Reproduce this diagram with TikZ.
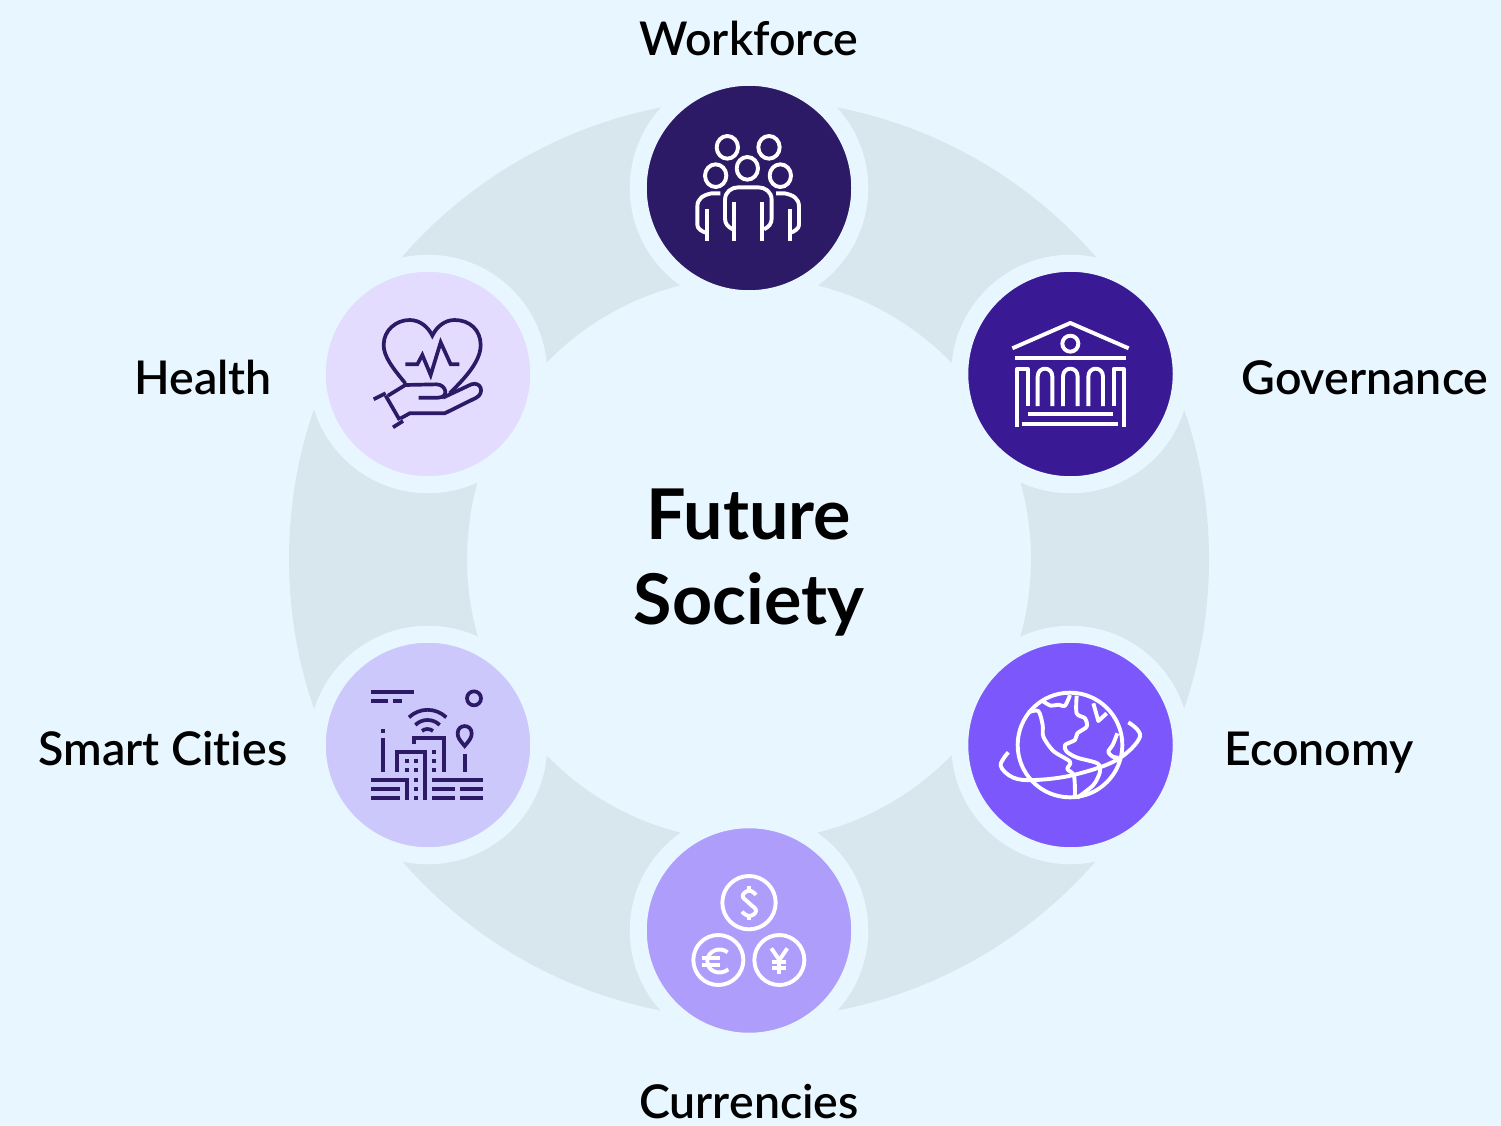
\documentclass[tikz,border=0pt]{standalone}
\usepackage{fontspec}
\setmainfont[Ligatures=NoCommon]{Lato}
\newfontfamily\mediumfont[Ligatures=NoCommon]{Lato Semibold}
\usetikzlibrary{positioning}
\definecolor{sky}{HTML}{E8F7FF}
\definecolor{ringgrey}{HTML}{D8E6EE}
\definecolor{inkdark}{HTML}{2D1A66}
\definecolor{inkroyal}{HTML}{3A1A94}
\definecolor{inkviolet}{HTML}{7B57FC}
\definecolor{inklilac}{HTML}{AE9DFB}
\definecolor{inkperi}{HTML}{CCC8FB}
\definecolor{inkpale}{HTML}{E3DCFE}

\begin{document}
\begin{tikzpicture}[
    x=1pt, y=-1pt,
    hub/.style={circle, draw=sky, line width=17pt, inner sep=0pt, outer sep=0pt, minimum size=221.5pt},
    caption/.style={font=\mediumfont\fontsize{46.5}{50}\selectfont, text=black, inner sep=0pt, anchor=base},
    title/.style={font=\bfseries\fontsize{70}{85}\selectfont, text=black, align=center, inner sep=0pt},
    iconbox/.style={shift={#1}, scale=1/3},
    lightline/.style={draw=white, line width=3.9pt, line join=round},
    darkline/.style={draw=inkdark, line width=3.7pt, line join=miter}
    ]

    % Fondo y anillo
    \fill[sky] (0,0) rectangle (1501,1126);
    \useasboundingbox (0,0) rectangle (1501,1126);
    \coordinate (Center) at (749,559);
    \draw[ringgrey, line width=178pt] (Center) circle (371);

    % Circulos
    \node[hub, fill=inkdark] (Workforce) at (749,188) {};
    \node[hub, fill=inkroyal] (Governance) at (1070.5,374) {};
    \node[hub, fill=inkviolet] (Economy) at (1070.5,745) {};
    \node[hub, fill=inklilac] (Currencies) at (749,930.5) {};
    \node[hub, fill=inkperi] (SmartCities) at (428,745) {};
    \node[hub, fill=inkpale] (Health) at (428,374) {};

    % Textos
    \node[title] (FutureSociety) at (749,563) {Future\\Society};
    \node[caption] (WorkforceText) at (749,56) {Workforce};
    \node[caption] (GovernanceText) at (1365,394) {Governance};
    \node[caption] (EconomyText) at (1319,765) {Economy};
    \node[caption] (CurrenciesText) at (749,1118) {Currencies};
    \node[caption] (SmartCitiesText) at (163,765) {Smart Cities};
    \node[caption] (HealthText) at (203,394) {Health};

    % Icono: personas
    \begin{scope}[iconbox={(640,80)}]
        \draw[lightline] (262,202) ellipse (32 and 34);
        \draw[lightline] (387,202) ellipse (32 and 34);
        \draw[lightline] (322,265) ellipse (32 and 34);
        \draw[lightline] (227,287) ellipse (32 and 34);
        \draw[lightline] (421,287) ellipse (32 and 34);
        \draw[lightline] (278,448) .. controls (262,440) and (255,430) .. (255,415) -- (255,360) .. controls (255,335) and (275,322) .. (295,322) -- (355,322) .. controls (375,322) and (395,335) .. (395,360) -- (395,415) .. controls (395,430) and (388,440) .. (372,448);
        \draw[lightline] (283,367) -- (283,483);
        \draw[lightline] (366,367) -- (366,483);
        \draw[lightline] (241,340) -- (215,340) .. controls (190,345) and (172,355) .. (172,380) -- (172,435) .. controls (172,445) and (185,455) .. (198,458);
        \draw[lightline] (200,388) -- (200,483);
        \draw[lightline] (408,340) -- (434,340) .. controls (459,345) and (477,355) .. (477,380) -- (477,435) .. controls (477,445) and (464,455) .. (451,458);
        \draw[lightline] (449,388) -- (449,483);
    \end{scope}

    % Icono: edificio
    \begin{scope}[iconbox={(960,265)}]
        \draw[lightline] (157,250) -- (331,174) -- (506,250);
        \draw[lightline] (331,236) circle (24);
        \draw[lightline] (165,280) -- (497,280);
        \draw[lightline] (171,485) -- (171,312) -- (203,312) -- (203,423);
        \draw[lightline] (461,423) -- (461,312) -- (491,312) -- (491,485);
        \foreach \px in {233,309,385} {
            \draw[lightline] (\px,423) -- (\px,335) .. controls (\px,303) and (\px+44,303) .. (\px+44,335) -- (\px+44,423);
        }
        \draw[lightline] (203,447) -- (460,447);
        \draw[lightline] (187,477) -- (475,477);
    \end{scope}

    % Icono: globo
    \begin{scope}[iconbox={(960,635)}]
        \draw[lightline] (330,330) circle (157);
        \draw[lightline] plot[smooth, tension=.6] coordinates {(145,352) (122,392) (160,428) (225,435) (340,420) (470,375) (540,305) (505,262)};
        \draw[lightline] plot[smooth, tension=.5] coordinates {(248,198) (272,212) (295,209) (315,212) (330,180)};
        \draw[lightline] plot[smooth, tension=.5] coordinates {(205,232) (235,228) (248,270) (250,305) (280,348) (330,380) (322,402) (342,422) (345,485)};
        \draw[lightline] plot[smooth, tension=.5] coordinates {(350,182) (350,235) (375,250) (380,275) (352,295) (345,315) (315,330) (320,350) (352,368) (412,385) (420,410) (400,450) (352,488)};
        \draw[lightline] (400,205) -- (415,258) -- (440,235);
        \draw[lightline] plot[smooth, tension=.5] coordinates {(472,295) (458,330) (445,350) (458,365) (475,368)};
    \end{scope}

    % Icono: monedas
    \begin{scope}[iconbox={(640,820)}]
        \draw[lightline] (327,248) circle (80);
        \draw[lightline] (235,420) circle (75);
        \draw[lightline] (418,420) circle (75);
        % dolar
        \draw[lightline] plot[smooth, tension=.8] coordinates {(348,225) (328,212) (308,228) (328,250) (348,272) (328,288) (306,275)};
        \draw[lightline] (328,198) -- (328,212);
        \draw[lightline] (328,288) -- (328,300);
        % euro
        \draw[lightline] (263,397) .. controls (240,378) and (202,392) .. (202,423) .. controls (202,455) and (240,468) .. (265,448);
        \draw[lightline] (187,414) -- (240,414);
        \draw[lightline] (187,434) -- (240,434);
        % yen
        \draw[lightline] (394,385) -- (418,420) -- (442,385);
        \draw[lightline] (418,420) -- (418,462);
        \draw[lightline] (397,425) -- (439,425);
        \draw[lightline] (397,443) -- (439,443);
    \end{scope}

    % Icono: ciudad
    \begin{scope}[iconbox={(318,635)}]
        \draw[darkline] (160,170) -- (287,170);
        \draw[darkline] (160,198) -- (210,198);
        \draw[darkline] (224,198) -- (252,198);
        \draw[darkline] (468,190) circle (21);
        \draw[darkline] (273,247) .. controls (305,217) and (352,217) .. (385,247);
        \draw[darkline] (292,270) .. controls (312,250) and (345,250) .. (365,270);
        \draw[darkline] (312,288) .. controls (320,280) and (336,280) .. (345,288);
        \draw[darkline] (287,328) -- (287,308) -- (378,308) -- (378,412);
        \draw[darkline] (238,412) -- (238,350) -- (322,350) -- (322,495);
        \foreach \wx/\wy in {349/350, 349/378, 349/406, 266/378, 294/378, 266/406, 294/406, 294/434, 294/462, 294/490} {
            \fill[inkdark] (\wx-6,\wy-6) rectangle (\wx+6,\wy+6);
        }
        \fill[inkdark] (190,282) rectangle (202,294);
        \draw[darkline] (196,308) -- (196,412);
        \draw[darkline] (440,333) .. controls (425,315) and (419,308) .. (419,295) .. controls (419,266) and (461,266) .. (461,295) .. controls (461,308) and (455,315) .. (440,333) -- cycle;
        \draw[darkline] (440,358) -- (440,412);
        \draw[darkline] (160,434) -- (266,434) -- (266,495);
        \draw[darkline] (160,462) -- (245,462);
        \draw[darkline] (160,490) -- (245,490);
        \draw[darkline] (343,434) -- (496,434);
        \draw[darkline] (343,462) -- (412,462);
        \draw[darkline] (426,462) -- (496,462);
        \draw[darkline] (343,490) -- (412,490);
        \draw[darkline] (426,490) -- (496,490);
    \end{scope}

    % Icono: salud
    \begin{scope}[iconbox={(318,265)}]
        \draw[darkline] (262,355) .. controls (225,310) and (197,275) .. (197,240) .. controls (197,195) and (235,165) .. (275,165) .. controls (305,165) and (330,185) .. (343,212) .. controls (356,185) and (380,165) .. (410,165) .. controls (455,165) and (488,195) .. (488,240) .. controls (488,290) and (440,340) .. (395,385);
        \draw[darkline] (262,298) -- (298,298) -- (313,270) -- (338,330) -- (368,232) -- (398,298) -- (424,298);
        \draw[darkline] (167,403) -- (203,385);
        \draw[darkline] (225,487) -- (255,468);
        \draw[darkline] (203,392) -- (245,465);
        \draw[darkline] (210,392) -- (262,360) -- (355,358) .. controls (385,358) and (395,398) .. (360,398) -- (302,398);
        \draw[darkline] (375,398) -- (460,358) .. controls (490,348) and (500,385) .. (475,398) -- (380,445) -- (275,445) -- (248,460);
    \end{scope}

\end{tikzpicture}
\end{document}
